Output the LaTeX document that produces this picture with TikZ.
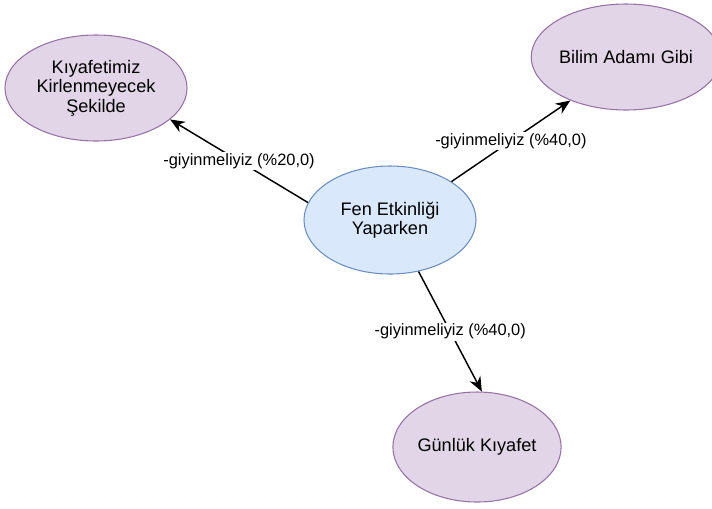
\documentclass[tikz,border=0pt]{standalone}
\usepackage{fontspec}
\setmainfont{Liberation Sans}
\usetikzlibrary{shapes.geometric,arrows.meta}

\definecolor{purplefill}{HTML}{E1D5E7}
\definecolor{purpleline}{HTML}{9673A6}
\definecolor{bluefill}{HTML}{DAE8FC}
\definecolor{blueline}{HTML}{6C8EBF}

\tikzstyle{topic} = [ellipse,fill=purplefill,draw=purpleline,line width=0.8pt,inner sep=0pt,align=center,font=\fontsize{13.6}{14.6}\selectfont]
\tikzstyle{main} = [topic,fill=bluefill,draw=blueline]
\tikzstyle{link} = [-{Stealth[length=11pt,width=9pt]},line width=1.1pt]
\tikzstyle{tag} = [fill=white,inner sep=1pt,font=\fontsize{12.3}{13}\selectfont]

\begin{document}
\begin{tikzpicture}[x=0.75pt,y=-0.75pt]
	\useasboundingbox (0,0) rectangle (712,508);
	\node[main,minimum width=129pt,minimum height=81pt] (fen) at (390,220) {Fen Etkinliği\\Yaparken};
	\node[topic,minimum width=136.5pt,minimum height=79.5pt] (kirli) at (96,88) {Kıyafetimiz\\Kirlenmeyecek\\Şekilde};
	\node[topic,minimum width=129pt,minimum height=79.5pt] (bilim) at (626,57) {Bilim Adamı Gibi};
	\node[topic,minimum width=126pt,minimum height=82.5pt] (gunluk) at (477,447) {Günlük Kıyafet};
	\draw[link] (fen.168) -- node[tag] {-giyinmeliyiz (\%20,0)} (kirli.-23);
	\draw[link] (fen.32) -- node[tag] {-giyinmeliyiz (\%40,0)} (bilim.218);
	\draw[link] (fen.-61) -- node[tag] {-giyinmeliyiz (\%40,0)} (gunluk.85);
\end{tikzpicture}
\end{document}
